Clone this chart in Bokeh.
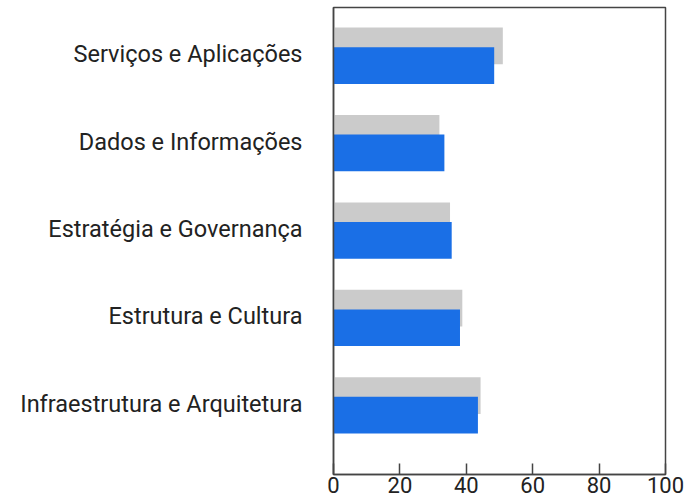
from bokeh.plotting import figure
from bokeh.models import Range1d, FixedTicker, ColumnDataSource
from bokeh.embed import file_html
from bokeh.resources import INLINE

categories = ["Serviços e Aplicações", "Dados e Informações", "Estratégia e Governança",
              "Estrutura e Cultura", "Infraestrutura e Arquitetura"]
gray_values = [51.0, 31.9, 35.1, 38.8, 44.3]
blue_values = [48.4, 33.4, 35.6, 38.1, 43.5]
x_ticks = [0, 20, 40, 60, 80, 100]

pos = list(range(len(categories)))
blue_shift = 0.13
gray_shift = blue_shift - 0.224
gray_src = ColumnDataSource(dict(y=[p + gray_shift for p in pos], right=gray_values))
blue_src = ColumnDataSource(dict(y=[p + blue_shift for p in pos], right=blue_values))

p = figure(width=688, height=500, output_backend="svg", toolbar_location=None,
           x_range=Range1d(0, 100), y_range=Range1d(4.809, -0.534),
           min_border_left=333, min_border_right=23, min_border_top=7, min_border_bottom=26)

p.hbar(y="y", left=0, right="right", height=0.42, source=gray_src,
       fill_color="#cbcbcb", line_color=None)
p.hbar(y="y", left=0, right="right", height=0.42, source=blue_src,
       fill_color="#1a6fe6", line_color=None)

p.xgrid.visible = False
p.ygrid.visible = False
p.outline_line_color = "#444444"
p.outline_line_width = 1.5
p.background_fill_color = "white"
p.border_fill_color = "white"

xa = p.xaxis[0]
xa.ticker = FixedTicker(ticks=x_ticks)
xa.major_tick_in = 11
xa.major_tick_out = 0
xa.minor_tick_line_color = None
xa.axis_line_color = "#444444"
xa.axis_line_width = 1.5
xa.major_tick_line_color = "#444444"
xa.major_tick_line_width = 1.5
xa.major_label_text_font = "Roboto"
xa.major_label_text_font_size = "22px"
xa.major_label_text_color = "#222222"
xa.major_label_standoff = 2

ya = p.yaxis[0]
ya.ticker = FixedTicker(ticks=pos)
ya.major_label_overrides = {i: c for i, c in zip(pos, categories)}
ya.major_tick_in = 0
ya.major_tick_out = 0
ya.minor_tick_line_color = None
ya.axis_line_color = "#444444"
ya.axis_line_width = 1.5
ya.major_label_text_font = "Roboto"
ya.major_label_text_font_size = "23.5px"
ya.major_label_text_color = "#222222"
ya.major_label_standoff = 31

open("out.html", "w").write(file_html(p, INLINE))
